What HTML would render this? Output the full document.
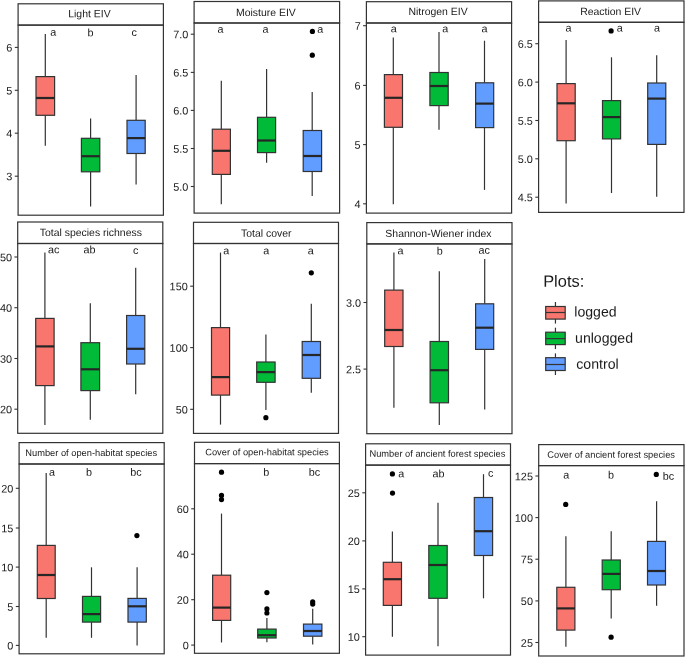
<!DOCTYPE html>
<html><head><meta charset="utf-8"><title>Boxplots</title><style>
html,body{margin:0;padding:0;background:#fff;}
svg{display:block;will-change:transform;}
text{font-family:"Liberation Sans",sans-serif;}
.w{stroke:#333333;stroke-width:1.2;}
.bx{stroke:#333333;stroke-width:1.2;}
.md{stroke:#262626;stroke-width:2.2;}
.fr{fill:none;stroke:#333333;stroke-width:1.2;}
.tk{stroke:#333333;stroke-width:1.1;}
.tt{fill:#1a1a1a;}
.tl{fill:#1a1a1a;font-size:10.9px;}
.lt{fill:#1a1a1a;font-size:10.8px;}
.lg{fill:#1a1a1a;}
</style></head>
<body><svg width="685" height="657" viewBox="0 0 685 657">
<rect width="685" height="657" fill="#fff"/>
<line x1="45.3" y1="34" x2="45.3" y2="76.6" class="w"/>
<line x1="45.3" y1="115.3" x2="45.3" y2="145.8" class="w"/>
<rect x="36" y="76.6" width="18.6" height="38.7" fill="#F8766D" class="bx"/>
<line x1="36" y1="98" x2="54.6" y2="98" class="md"/>
<line x1="90.6" y1="118.5" x2="90.6" y2="138.3" class="w"/>
<line x1="90.6" y1="171.8" x2="90.6" y2="206.6" class="w"/>
<rect x="81.4" y="138.3" width="18.4" height="33.5" fill="#00BA38" class="bx"/>
<line x1="81.4" y1="156.2" x2="99.8" y2="156.2" class="md"/>
<line x1="136.1" y1="75.1" x2="136.1" y2="120.3" class="w"/>
<line x1="136.1" y1="153.5" x2="136.1" y2="184.5" class="w"/>
<rect x="127" y="120.3" width="18.2" height="33.2" fill="#619CFF" class="bx"/>
<line x1="127" y1="138.1" x2="145.2" y2="138.1" class="md"/>
<text x="50.31" y="35.65" transform="matrix(1 0.0005 0 1 0 -0.0252)" class="lt">a</text>
<text x="87.47" y="36.25" transform="matrix(1 0.0005 0 1 0 -0.0437)" class="lt">b</text>
<text x="131.49" y="36.05" transform="matrix(1 0.0005 0 1 0 -0.0657)" class="lt">c</text>
<rect x="18.1" y="25.1" width="145.3" height="190.1" class="fr"/>
<rect x="18.1" y="3.8" width="145.3" height="21.3" class="fr"/>
<text x="68.26" y="17.2" transform="matrix(1 0.0005 0 1 0 -0.0345)" class="tt" style="font-size:10.45px">Light EIV</text>
<line x1="14.8" y1="47.4" x2="18.1" y2="47.4" class="tk"/>
<text x="6.33" y="51.55" transform="matrix(1 0.0005 0 1 0 -0.0091)" class="tl">6</text>
<line x1="14.8" y1="90.3" x2="18.1" y2="90.3" class="tk"/>
<text x="6.33" y="94.45" transform="matrix(1 0.0005 0 1 0 -0.0091)" class="tl">5</text>
<line x1="14.8" y1="133.2" x2="18.1" y2="133.2" class="tk"/>
<text x="6.22" y="137.35" transform="matrix(1 0.0005 0 1 0 -0.0091)" class="tl">4</text>
<line x1="14.8" y1="176.2" x2="18.1" y2="176.2" class="tk"/>
<text x="6.33" y="180.35" transform="matrix(1 0.0005 0 1 0 -0.0091)" class="tl">3</text>
<line x1="221.3" y1="80.7" x2="221.3" y2="129.2" class="w"/>
<line x1="221.3" y1="174.4" x2="221.3" y2="204.3" class="w"/>
<rect x="212.3" y="129.2" width="18.1" height="45.2" fill="#F8766D" class="bx"/>
<line x1="212.3" y1="150.8" x2="230.4" y2="150.8" class="md"/>
<line x1="266.6" y1="69.1" x2="266.6" y2="117.3" class="w"/>
<line x1="266.6" y1="152.6" x2="266.6" y2="162.8" class="w"/>
<rect x="257.5" y="117.3" width="18.1" height="35.3" fill="#00BA38" class="bx"/>
<line x1="257.5" y1="140.5" x2="275.6" y2="140.5" class="md"/>
<line x1="312.2" y1="92" x2="312.2" y2="130.5" class="w"/>
<line x1="312.2" y1="171.5" x2="312.2" y2="195.9" class="w"/>
<rect x="303.2" y="130.5" width="18.4" height="41" fill="#619CFF" class="bx"/>
<line x1="303.2" y1="156" x2="321.6" y2="156" class="md"/>
<circle cx="312.4" cy="31.4" r="2.6" fill="#000"/>
<circle cx="312.3" cy="55.2" r="2.6" fill="#000"/>
<text x="217.46" y="32.85" transform="matrix(1 0.0005 0 1 0 -0.1087)" class="lt">a</text>
<text x="262.56" y="32.85" transform="matrix(1 0.0005 0 1 0 -0.1313)" class="lt">a</text>
<text x="317.21" y="32.85" transform="matrix(1 0.0005 0 1 0 -0.1586)" class="lt">a</text>
<rect x="194.1" y="23" width="145.5" height="190.1" class="fr"/>
<rect x="194.1" y="1.5" width="145.5" height="21.5" class="fr"/>
<text x="236.06" y="16.1" transform="matrix(1 0.0005 0 1 0 -0.1184)" class="tt" style="font-size:10.45px">Moisture EIV</text>
<line x1="190.8" y1="34.2" x2="194.1" y2="34.2" class="tk"/>
<text x="173.24" y="38.35" transform="matrix(1 0.0005 0 1 0 -0.0970)" class="tl">7.0</text>
<line x1="190.8" y1="72.4" x2="194.1" y2="72.4" class="tk"/>
<text x="173.24" y="76.55" transform="matrix(1 0.0005 0 1 0 -0.0970)" class="tl">6.5</text>
<line x1="190.8" y1="110.4" x2="194.1" y2="110.4" class="tk"/>
<text x="173.24" y="114.55" transform="matrix(1 0.0005 0 1 0 -0.0970)" class="tl">6.0</text>
<line x1="190.8" y1="148.5" x2="194.1" y2="148.5" class="tk"/>
<text x="173.24" y="152.65" transform="matrix(1 0.0005 0 1 0 -0.0970)" class="tl">5.5</text>
<line x1="190.8" y1="186.5" x2="194.1" y2="186.5" class="tk"/>
<text x="173.24" y="190.65" transform="matrix(1 0.0005 0 1 0 -0.0970)" class="tl">5.0</text>
<line x1="393.3" y1="37.6" x2="393.3" y2="74.6" class="w"/>
<line x1="393.3" y1="127.3" x2="393.3" y2="204.3" class="w"/>
<rect x="384.4" y="74.6" width="18.1" height="52.7" fill="#F8766D" class="bx"/>
<line x1="384.4" y1="97.8" x2="402.5" y2="97.8" class="md"/>
<line x1="439" y1="32.1" x2="439" y2="72.5" class="w"/>
<line x1="439" y1="105.6" x2="439" y2="129.7" class="w"/>
<rect x="429.9" y="72.5" width="18.3" height="33.1" fill="#00BA38" class="bx"/>
<line x1="429.9" y1="86" x2="448.2" y2="86" class="md"/>
<line x1="484.5" y1="40.7" x2="484.5" y2="82.8" class="w"/>
<line x1="484.5" y1="127.6" x2="484.5" y2="189.9" class="w"/>
<rect x="475.6" y="82.8" width="18.1" height="44.8" fill="#619CFF" class="bx"/>
<line x1="475.6" y1="103.6" x2="493.7" y2="103.6" class="md"/>
<text x="390.66" y="32.25" transform="matrix(1 0.0005 0 1 0 -0.1953)" class="lt">a</text>
<text x="442.36" y="32.25" transform="matrix(1 0.0005 0 1 0 -0.2212)" class="lt">a</text>
<text x="481.46" y="32.25" transform="matrix(1 0.0005 0 1 0 -0.2407)" class="lt">a</text>
<rect x="366.4" y="23" width="145.2" height="190.1" class="fr"/>
<rect x="366.4" y="1.7" width="145.2" height="21.3" class="fr"/>
<text x="408.46" y="14.9" transform="matrix(1 0.0005 0 1 0 -0.2046)" class="tt" style="font-size:10.45px">Nitrogen EIV</text>
<line x1="363.1" y1="25.7" x2="366.4" y2="25.7" class="tk"/>
<text x="354.74" y="29.85" transform="matrix(1 0.0005 0 1 0 -0.1832)" class="tl">7</text>
<line x1="363.1" y1="85.4" x2="366.4" y2="85.4" class="tk"/>
<text x="354.63" y="89.55" transform="matrix(1 0.0005 0 1 0 -0.1832)" class="tl">6</text>
<line x1="363.1" y1="144.6" x2="366.4" y2="144.6" class="tk"/>
<text x="354.63" y="148.75" transform="matrix(1 0.0005 0 1 0 -0.1832)" class="tl">5</text>
<line x1="363.1" y1="203.8" x2="366.4" y2="203.8" class="tk"/>
<text x="354.52" y="207.95" transform="matrix(1 0.0005 0 1 0 -0.1832)" class="tl">4</text>
<line x1="566.1" y1="40" x2="566.1" y2="83.6" class="w"/>
<line x1="566.1" y1="140.7" x2="566.1" y2="203.5" class="w"/>
<rect x="557" y="83.6" width="18.2" height="57.1" fill="#F8766D" class="bx"/>
<line x1="557" y1="103.3" x2="575.2" y2="103.3" class="md"/>
<line x1="611.5" y1="57.3" x2="611.5" y2="100.6" class="w"/>
<line x1="611.5" y1="138.9" x2="611.5" y2="193" class="w"/>
<rect x="602.5" y="100.6" width="18.1" height="38.3" fill="#00BA38" class="bx"/>
<line x1="602.5" y1="117.1" x2="620.6" y2="117.1" class="md"/>
<line x1="656.7" y1="55.2" x2="656.7" y2="83" class="w"/>
<line x1="656.7" y1="144.4" x2="656.7" y2="196.7" class="w"/>
<rect x="647.7" y="83" width="18.1" height="61.4" fill="#619CFF" class="bx"/>
<line x1="647.7" y1="98.6" x2="665.8" y2="98.6" class="md"/>
<circle cx="611.1" cy="30.9" r="2.6" fill="#000"/>
<text x="565.56" y="31.45" transform="matrix(1 0.0005 0 1 0 -0.2828)" class="lt">a</text>
<text x="616.86" y="31.45" transform="matrix(1 0.0005 0 1 0 -0.3084)" class="lt">a</text>
<text x="653.96" y="31.45" transform="matrix(1 0.0005 0 1 0 -0.3270)" class="lt">a</text>
<rect x="538.6" y="22.3" width="145.4" height="190.1" class="fr"/>
<rect x="538.6" y="0.9" width="145.4" height="21.4" class="fr"/>
<text x="580.16" y="15" transform="matrix(1 0.0005 0 1 0 -0.2905)" class="tt" style="font-size:10.45px">Reaction EIV</text>
<line x1="535.3" y1="43.7" x2="538.6" y2="43.7" class="tk"/>
<text x="517.74" y="47.85" transform="matrix(1 0.0005 0 1 0 -0.2693)" class="tl">6.5</text>
<line x1="535.3" y1="82.1" x2="538.6" y2="82.1" class="tk"/>
<text x="517.74" y="86.25" transform="matrix(1 0.0005 0 1 0 -0.2693)" class="tl">6.0</text>
<line x1="535.3" y1="120.5" x2="538.6" y2="120.5" class="tk"/>
<text x="517.74" y="124.65" transform="matrix(1 0.0005 0 1 0 -0.2693)" class="tl">5.5</text>
<line x1="535.3" y1="158.8" x2="538.6" y2="158.8" class="tk"/>
<text x="517.74" y="162.95" transform="matrix(1 0.0005 0 1 0 -0.2693)" class="tl">5.0</text>
<line x1="535.3" y1="197.2" x2="538.6" y2="197.2" class="tk"/>
<text x="517.74" y="201.35" transform="matrix(1 0.0005 0 1 0 -0.2693)" class="tl">4.5</text>
<line x1="44.9" y1="252.5" x2="44.9" y2="318.4" class="w"/>
<line x1="44.9" y1="385.6" x2="44.9" y2="425" class="w"/>
<rect x="35.7" y="318.4" width="18.4" height="67.2" fill="#F8766D" class="bx"/>
<line x1="35.7" y1="346.4" x2="54.1" y2="346.4" class="md"/>
<line x1="90.3" y1="303.2" x2="90.3" y2="342.7" class="w"/>
<line x1="90.3" y1="390.6" x2="90.3" y2="419.8" class="w"/>
<rect x="80.9" y="342.7" width="18.7" height="47.9" fill="#00BA38" class="bx"/>
<line x1="80.9" y1="369.3" x2="99.6" y2="369.3" class="md"/>
<line x1="135.7" y1="267.7" x2="135.7" y2="315.5" class="w"/>
<line x1="135.7" y1="364" x2="135.7" y2="394.3" class="w"/>
<rect x="126.6" y="315.5" width="18.2" height="48.5" fill="#619CFF" class="bx"/>
<line x1="126.6" y1="348.8" x2="144.8" y2="348.8" class="md"/>
<text x="47.94" y="253.35" transform="matrix(1 0.0005 0 1 0 -0.0240)" class="lt">ac</text>
<text x="83.47" y="253.35" transform="matrix(1 0.0005 0 1 0 -0.0417)" class="lt">ab</text>
<text x="133.14" y="253.95" transform="matrix(1 0.0005 0 1 0 -0.0666)" class="lt">c</text>
<rect x="17.7" y="243.5" width="145.1" height="189.8" class="fr"/>
<rect x="17.7" y="222" width="145.1" height="21.5" class="fr"/>
<text x="39.79" y="235.9" transform="matrix(1 0.0005 0 1 0 -0.0200)" class="tt" style="font-size:10.45px">Total species richness</text>
<line x1="14.4" y1="257" x2="17.7" y2="257" class="tk"/>
<text x="-0.13" y="261.15" transform="matrix(1 0.0005 0 1 0 -0.0089)" class="tl">50</text>
<line x1="14.4" y1="307.7" x2="17.7" y2="307.7" class="tk"/>
<text x="-0.13" y="311.85" transform="matrix(1 0.0005 0 1 0 -0.0089)" class="tl">40</text>
<line x1="14.4" y1="358.5" x2="17.7" y2="358.5" class="tk"/>
<text x="-0.13" y="362.65" transform="matrix(1 0.0005 0 1 0 -0.0089)" class="tl">30</text>
<line x1="14.4" y1="409.2" x2="17.7" y2="409.2" class="tk"/>
<text x="-0.13" y="413.35" transform="matrix(1 0.0005 0 1 0 -0.0089)" class="tl">20</text>
<line x1="220.5" y1="252.6" x2="220.5" y2="327.6" class="w"/>
<line x1="220.5" y1="395.1" x2="220.5" y2="424.6" class="w"/>
<rect x="211.5" y="327.6" width="18.1" height="67.5" fill="#F8766D" class="bx"/>
<line x1="211.5" y1="377.1" x2="229.6" y2="377.1" class="md"/>
<line x1="265.9" y1="334.5" x2="265.9" y2="362" class="w"/>
<line x1="265.9" y1="382.3" x2="265.9" y2="409.9" class="w"/>
<rect x="256.7" y="362" width="18.4" height="20.3" fill="#00BA38" class="bx"/>
<line x1="256.7" y1="372.1" x2="275.1" y2="372.1" class="md"/>
<line x1="311.3" y1="303.8" x2="311.3" y2="341.5" class="w"/>
<line x1="311.3" y1="378.3" x2="311.3" y2="392.8" class="w"/>
<rect x="302.2" y="341.5" width="18.3" height="36.8" fill="#619CFF" class="bx"/>
<line x1="302.2" y1="355" x2="320.5" y2="355" class="md"/>
<circle cx="311.3" cy="272.8" r="2.6" fill="#000"/>
<circle cx="265.9" cy="417.7" r="2.6" fill="#000"/>
<text x="223.36" y="254.15" transform="matrix(1 0.0005 0 1 0 -0.1117)" class="lt">a</text>
<text x="263.26" y="254.15" transform="matrix(1 0.0005 0 1 0 -0.1316)" class="lt">a</text>
<text x="307.86" y="254.15" transform="matrix(1 0.0005 0 1 0 -0.1539)" class="lt">a</text>
<rect x="193.5" y="243.5" width="145" height="189.9" class="fr"/>
<rect x="193.5" y="222.3" width="145" height="21.2" class="fr"/>
<text x="240.99" y="236.7" transform="matrix(1 0.0005 0 1 0 -0.1206)" class="tt" style="font-size:10.45px">Total cover</text>
<line x1="190.2" y1="286.2" x2="193.5" y2="286.2" class="tk"/>
<text x="169.61" y="290.35" transform="matrix(1 0.0005 0 1 0 -0.0968)" class="tl">150</text>
<line x1="190.2" y1="347.6" x2="193.5" y2="347.6" class="tk"/>
<text x="169.61" y="351.75" transform="matrix(1 0.0005 0 1 0 -0.0968)" class="tl">100</text>
<line x1="190.2" y1="409.3" x2="193.5" y2="409.3" class="tk"/>
<text x="175.67" y="413.45" transform="matrix(1 0.0005 0 1 0 -0.0968)" class="tl">50</text>
<line x1="393.9" y1="252.6" x2="393.9" y2="290.1" class="w"/>
<line x1="393.9" y1="346.5" x2="393.9" y2="407.8" class="w"/>
<rect x="384.7" y="290.1" width="18.3" height="56.4" fill="#F8766D" class="bx"/>
<line x1="384.7" y1="330" x2="403" y2="330" class="md"/>
<line x1="439.3" y1="271.2" x2="439.3" y2="341.5" class="w"/>
<line x1="439.3" y1="402.8" x2="439.3" y2="425.1" class="w"/>
<rect x="430.1" y="341.5" width="18.4" height="61.3" fill="#00BA38" class="bx"/>
<line x1="430.1" y1="370.2" x2="448.5" y2="370.2" class="md"/>
<line x1="484.7" y1="259.1" x2="484.7" y2="303.8" class="w"/>
<line x1="484.7" y1="349.4" x2="484.7" y2="409.6" class="w"/>
<rect x="475.6" y="303.8" width="18.1" height="45.6" fill="#619CFF" class="bx"/>
<line x1="475.6" y1="327.7" x2="493.7" y2="327.7" class="md"/>
<text x="397.51" y="254.15" transform="matrix(1 0.0005 0 1 0 -0.1988)" class="lt">a</text>
<text x="436.87" y="254.55" transform="matrix(1 0.0005 0 1 0 -0.2184)" class="lt">b</text>
<text x="478.44" y="253.75" transform="matrix(1 0.0005 0 1 0 -0.2392)" class="lt">ac</text>
<rect x="366.8" y="243.9" width="145.2" height="189.8" class="fr"/>
<rect x="366.8" y="222.6" width="145.2" height="21.3" class="fr"/>
<text x="385.38" y="236.9" transform="matrix(1 0.0005 0 1 0 -0.1929)" class="tt" style="font-size:10.45px">Shannon-Wiener index</text>
<line x1="363.5" y1="302.5" x2="366.8" y2="302.5" class="tk"/>
<text x="345.94" y="306.65" transform="matrix(1 0.0005 0 1 0 -0.1834)" class="tl">3.0</text>
<line x1="363.5" y1="369.1" x2="366.8" y2="369.1" class="tk"/>
<text x="345.94" y="373.25" transform="matrix(1 0.0005 0 1 0 -0.1834)" class="tl">2.5</text>
<line x1="46.2" y1="473.1" x2="46.2" y2="545.4" class="w"/>
<line x1="46.2" y1="598.5" x2="46.2" y2="637.8" class="w"/>
<rect x="37.3" y="545.4" width="17.9" height="53.1" fill="#F8766D" class="bx"/>
<line x1="37.3" y1="575" x2="55.2" y2="575" class="md"/>
<line x1="91.5" y1="567.3" x2="91.5" y2="596.4" class="w"/>
<line x1="91.5" y1="622.1" x2="91.5" y2="637.8" class="w"/>
<rect x="82.5" y="596.4" width="18.1" height="25.7" fill="#00BA38" class="bx"/>
<line x1="82.5" y1="614.1" x2="100.6" y2="614.1" class="md"/>
<line x1="137.1" y1="567.3" x2="137.1" y2="598.4" class="w"/>
<line x1="137.1" y1="622.1" x2="137.1" y2="645.6" class="w"/>
<rect x="128" y="598.4" width="18.3" height="23.7" fill="#619CFF" class="bx"/>
<line x1="128" y1="606.3" x2="146.3" y2="606.3" class="md"/>
<circle cx="136.9" cy="535.6" r="2.6" fill="#000"/>
<text x="49.01" y="475.65" transform="matrix(1 0.0005 0 1 0 -0.0245)" class="lt">a</text>
<text x="86.07" y="475.65" transform="matrix(1 0.0005 0 1 0 -0.0430)" class="lt">b</text>
<text x="130.23" y="475.65" transform="matrix(1 0.0005 0 1 0 -0.0651)" class="lt">bc</text>
<rect x="19.1" y="464" width="145.1" height="189.8" class="fr"/>
<rect x="19.1" y="442.6" width="145.1" height="21.4" class="fr"/>
<text x="25.26" y="455.9" transform="matrix(1 0.0005 0 1 0 -0.0130)" class="tt" style="font-size:9.3px">Number of open-habitat species</text>
<line x1="15.8" y1="488.3" x2="19.1" y2="488.3" class="tk"/>
<text x="1.27" y="492.45" transform="matrix(1 0.0005 0 1 0 -0.0096)" class="tl">20</text>
<line x1="15.8" y1="528" x2="19.1" y2="528" class="tk"/>
<text x="1.27" y="532.15" transform="matrix(1 0.0005 0 1 0 -0.0096)" class="tl">15</text>
<line x1="15.8" y1="567.1" x2="19.1" y2="567.1" class="tk"/>
<text x="1.27" y="571.25" transform="matrix(1 0.0005 0 1 0 -0.0096)" class="tl">10</text>
<line x1="15.8" y1="606.5" x2="19.1" y2="606.5" class="tk"/>
<text x="7.33" y="610.65" transform="matrix(1 0.0005 0 1 0 -0.0096)" class="tl">5</text>
<line x1="15.8" y1="645.4" x2="19.1" y2="645.4" class="tk"/>
<text x="7.33" y="649.55" transform="matrix(1 0.0005 0 1 0 -0.0096)" class="tl">0</text>
<line x1="221.5" y1="513.6" x2="221.5" y2="575.2" class="w"/>
<line x1="221.5" y1="620.4" x2="221.5" y2="642.5" class="w"/>
<rect x="212.6" y="575.2" width="18.1" height="45.2" fill="#F8766D" class="bx"/>
<line x1="212.6" y1="607.6" x2="230.7" y2="607.6" class="md"/>
<line x1="266.9" y1="618" x2="266.9" y2="629.1" class="w"/>
<line x1="266.9" y1="638" x2="266.9" y2="642.2" class="w"/>
<rect x="257.7" y="629.1" width="18.4" height="8.9" fill="#00BA38" class="bx"/>
<line x1="257.7" y1="635.2" x2="276.1" y2="635.2" class="md"/>
<line x1="312.7" y1="608.8" x2="312.7" y2="624.1" class="w"/>
<line x1="312.7" y1="636.2" x2="312.7" y2="644.6" class="w"/>
<rect x="303.5" y="624.1" width="18.4" height="12.1" fill="#619CFF" class="bx"/>
<line x1="303.5" y1="631" x2="321.9" y2="631" class="md"/>
<circle cx="221.5" cy="472.2" r="2.6" fill="#000"/>
<circle cx="221.5" cy="495.4" r="2.6" fill="#000"/>
<circle cx="221.5" cy="499.6" r="2.6" fill="#000"/>
<circle cx="266.9" cy="592.6" r="2.6" fill="#000"/>
<circle cx="266.9" cy="608.9" r="2.6" fill="#000"/>
<circle cx="266.9" cy="613" r="2.6" fill="#000"/>
<circle cx="312.7" cy="601.8" r="2.6" fill="#000"/>
<circle cx="312.7" cy="604.1" r="2.6" fill="#000"/>
<text x="263.37" y="475.65" transform="matrix(1 0.0005 0 1 0 -0.1317)" class="lt">b</text>
<text x="308.78" y="475.65" transform="matrix(1 0.0005 0 1 0 -0.1544)" class="lt">bc</text>
<rect x="194.5" y="463.6" width="144.9" height="189.7" class="fr"/>
<rect x="194.5" y="442.3" width="144.9" height="21.3" class="fr"/>
<text x="205.23" y="455.2" transform="matrix(1 0.0005 0 1 0 -0.1028)" class="tt" style="font-size:9.3px">Cover of open-habitat species</text>
<line x1="191.2" y1="508.8" x2="194.5" y2="508.8" class="tk"/>
<text x="176.67" y="512.95" transform="matrix(1 0.0005 0 1 0 -0.0973)" class="tl">60</text>
<line x1="191.2" y1="554.2" x2="194.5" y2="554.2" class="tk"/>
<text x="176.67" y="558.35" transform="matrix(1 0.0005 0 1 0 -0.0973)" class="tl">40</text>
<line x1="191.2" y1="599.7" x2="194.5" y2="599.7" class="tk"/>
<text x="176.67" y="603.85" transform="matrix(1 0.0005 0 1 0 -0.0973)" class="tl">20</text>
<line x1="191.2" y1="645.1" x2="194.5" y2="645.1" class="tk"/>
<text x="182.73" y="649.25" transform="matrix(1 0.0005 0 1 0 -0.0973)" class="tl">0</text>
<line x1="392.4" y1="531.4" x2="392.4" y2="562.3" class="w"/>
<line x1="392.4" y1="605.4" x2="392.4" y2="636.7" class="w"/>
<rect x="383.3" y="562.3" width="18.2" height="43.1" fill="#F8766D" class="bx"/>
<line x1="383.3" y1="579.2" x2="401.5" y2="579.2" class="md"/>
<line x1="438" y1="502.8" x2="438" y2="545.5" class="w"/>
<line x1="438" y1="598.3" x2="438" y2="646.2" class="w"/>
<rect x="428.8" y="545.5" width="18.4" height="52.8" fill="#00BA38" class="bx"/>
<line x1="428.8" y1="565" x2="447.2" y2="565" class="md"/>
<line x1="483.5" y1="474.2" x2="483.5" y2="497.5" class="w"/>
<line x1="483.5" y1="555.5" x2="483.5" y2="598.3" class="w"/>
<rect x="474.3" y="497.5" width="18.3" height="58" fill="#619CFF" class="bx"/>
<line x1="474.3" y1="531.2" x2="492.6" y2="531.2" class="md"/>
<circle cx="392.4" cy="473.9" r="2.6" fill="#000"/>
<circle cx="392.5" cy="493.1" r="2.6" fill="#000"/>
<text x="398.21" y="477.15" transform="matrix(1 0.0005 0 1 0 -0.1991)" class="lt">a</text>
<text x="432.42" y="477.15" transform="matrix(1 0.0005 0 1 0 -0.2162)" class="lt">ab</text>
<text x="487.99" y="476.75" transform="matrix(1 0.0005 0 1 0 -0.2440)" class="lt">c</text>
<rect x="365.6" y="465.1" width="144.9" height="190" class="fr"/>
<rect x="365.6" y="443.8" width="144.9" height="21.3" class="fr"/>
<text x="369.46" y="456.8" transform="matrix(1 0.0005 0 1 0 -0.1851)" class="tt" style="font-size:9.3px">Number of ancient forest species</text>
<line x1="362.3" y1="492.8" x2="365.6" y2="492.8" class="tk"/>
<text x="347.77" y="496.95" transform="matrix(1 0.0005 0 1 0 -0.1828)" class="tl">25</text>
<line x1="362.3" y1="540.9" x2="365.6" y2="540.9" class="tk"/>
<text x="347.77" y="545.05" transform="matrix(1 0.0005 0 1 0 -0.1828)" class="tl">20</text>
<line x1="362.3" y1="588.9" x2="365.6" y2="588.9" class="tk"/>
<text x="347.77" y="593.05" transform="matrix(1 0.0005 0 1 0 -0.1828)" class="tl">15</text>
<line x1="362.3" y1="636.7" x2="365.6" y2="636.7" class="tk"/>
<text x="347.77" y="640.85" transform="matrix(1 0.0005 0 1 0 -0.1828)" class="tl">10</text>
<line x1="565.9" y1="536.2" x2="565.9" y2="587.3" class="w"/>
<line x1="565.9" y1="630.1" x2="565.9" y2="646.7" class="w"/>
<rect x="556.8" y="587.3" width="18.1" height="42.8" fill="#F8766D" class="bx"/>
<line x1="556.8" y1="608.4" x2="574.9" y2="608.4" class="md"/>
<line x1="611.2" y1="531.2" x2="611.2" y2="560" class="w"/>
<line x1="611.2" y1="589.7" x2="611.2" y2="618.6" class="w"/>
<rect x="602.2" y="560" width="18.1" height="29.7" fill="#00BA38" class="bx"/>
<line x1="602.2" y1="573.9" x2="620.3" y2="573.9" class="md"/>
<line x1="656.6" y1="501.2" x2="656.6" y2="541.4" class="w"/>
<line x1="656.6" y1="585" x2="656.6" y2="605.7" class="w"/>
<rect x="647.5" y="541.4" width="18" height="43.6" fill="#619CFF" class="bx"/>
<line x1="647.5" y1="571" x2="665.5" y2="571" class="md"/>
<circle cx="565.7" cy="504.4" r="2.6" fill="#000"/>
<circle cx="611.1" cy="637.2" r="2.6" fill="#000"/>
<circle cx="656.3" cy="474.4" r="2.6" fill="#000"/>
<text x="563.31" y="478.45" transform="matrix(1 0.0005 0 1 0 -0.2817)" class="lt">a</text>
<text x="607.92" y="478.45" transform="matrix(1 0.0005 0 1 0 -0.3040)" class="lt">b</text>
<text x="662.78" y="479.65" transform="matrix(1 0.0005 0 1 0 -0.3314)" class="lt">bc</text>
<rect x="538.7" y="465.6" width="145.3" height="190.4" class="fr"/>
<rect x="538.7" y="444.6" width="145.3" height="21" class="fr"/>
<text x="547.33" y="457.7" transform="matrix(1 0.0005 0 1 0 -0.2739)" class="tt" style="font-size:9.3px">Cover of ancient forest species</text>
<line x1="535.4" y1="476" x2="538.7" y2="476" class="tk"/>
<text x="514.81" y="480.15" transform="matrix(1 0.0005 0 1 0 -0.2694)" class="tl">125</text>
<line x1="535.4" y1="517.6" x2="538.7" y2="517.6" class="tk"/>
<text x="514.81" y="521.75" transform="matrix(1 0.0005 0 1 0 -0.2694)" class="tl">100</text>
<line x1="535.4" y1="559.2" x2="538.7" y2="559.2" class="tk"/>
<text x="520.87" y="563.35" transform="matrix(1 0.0005 0 1 0 -0.2694)" class="tl">75</text>
<line x1="535.4" y1="600.9" x2="538.7" y2="600.9" class="tk"/>
<text x="520.87" y="605.05" transform="matrix(1 0.0005 0 1 0 -0.2694)" class="tl">50</text>
<line x1="535.4" y1="642.5" x2="538.7" y2="642.5" class="tk"/>
<text x="520.87" y="646.65" transform="matrix(1 0.0005 0 1 0 -0.2694)" class="tl">25</text>
<text x="543.19" y="286.8" transform="matrix(1 0.0005 0 1 0 -0.2720)" class="lg" style="font-size:16.4px">Plots:</text>
<line x1="555.45" y1="302" x2="555.45" y2="323.6" class="w"/>
<rect x="545.7" y="306.5" width="19.5" height="12.6" fill="#F8766D" class="bx"/>
<line x1="545.7" y1="312.5" x2="565.2" y2="312.5" class="w"/>
<text x="574.25" y="316.6" transform="matrix(1 0.0005 0 1 0 -0.2876)" class="lg" style="font-size:14.1px">logged</text>
<line x1="555.45" y1="327.7" x2="555.45" y2="349.1" class="w"/>
<rect x="545.7" y="332.2" width="19.5" height="12.4" fill="#00BA38" class="bx"/>
<line x1="545.7" y1="338.6" x2="565.2" y2="338.6" class="w"/>
<text x="575.05" y="342.8" transform="matrix(1 0.0005 0 1 0 -0.2879)" class="lg" style="font-size:14.1px">unlogged</text>
<line x1="555.45" y1="353.4" x2="555.45" y2="375" class="w"/>
<rect x="545.7" y="357.7" width="19.5" height="12.8" fill="#619CFF" class="bx"/>
<line x1="545.7" y1="364.5" x2="565.2" y2="364.5" class="w"/>
<text x="576.34" y="368.7" transform="matrix(1 0.0005 0 1 0 -0.2884)" class="lg" style="font-size:14.1px">control</text>
</svg></body></html>
